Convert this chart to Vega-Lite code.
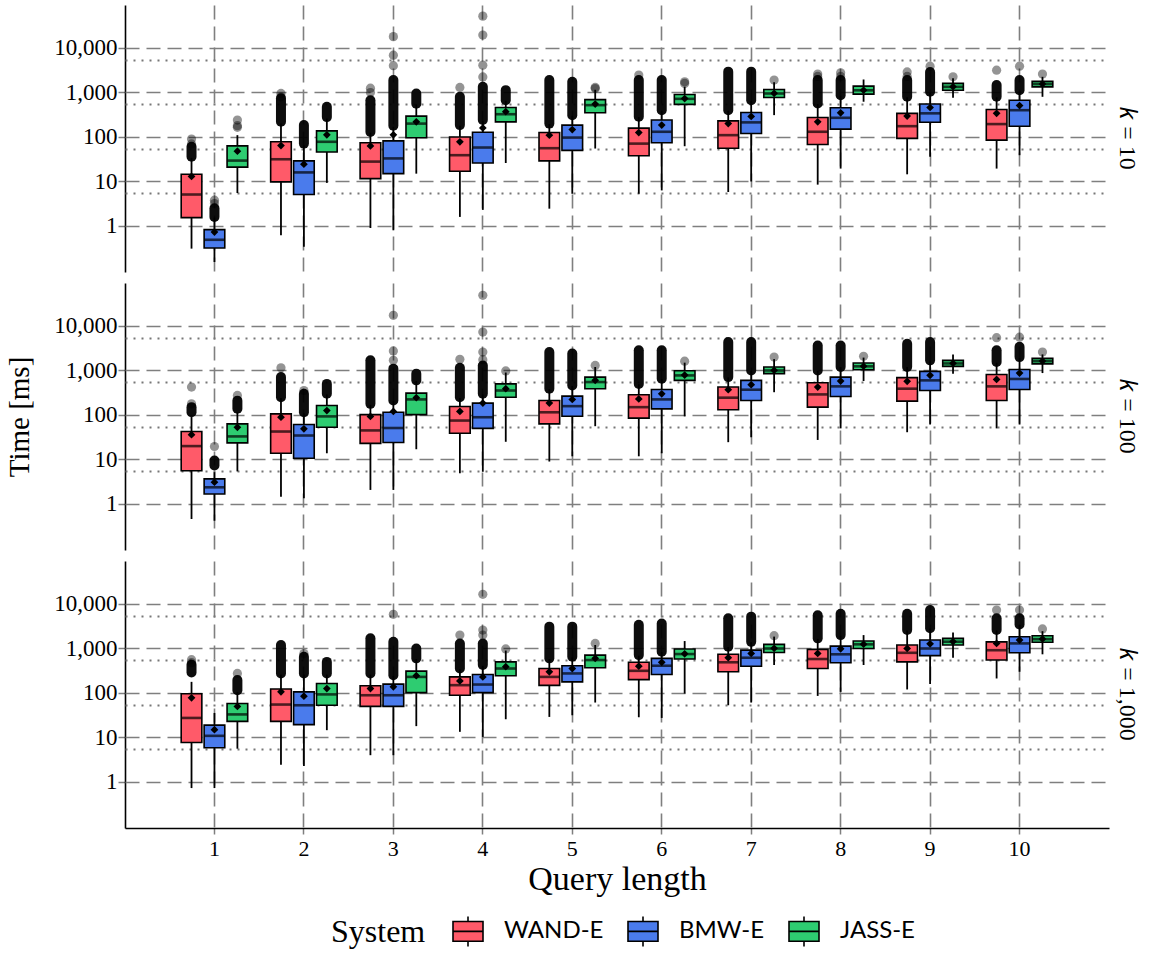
{
  "$schema": "https://vega.github.io/schema/vega-lite/v6.json",
  "padding": {"left": 5, "right": 4, "top": 5, "bottom": 5},
  "background": "white",
  "data": {"values": [
    {"kind":"box","panel":"𝑘 = 10","len":1,"system":"WAND-E","lo":0.31,"q1":1.54,"med":5.1,"q3":14.5,"hi":34,"mean":13},
    {"kind":"box","panel":"𝑘 = 10","len":1,"system":"BMW-E","lo":0.155,"q1":0.32,"med":0.49,"q3":0.83,"hi":1.55,"mean":0.73},
    {"kind":"box","panel":"𝑘 = 10","len":1,"system":"JASS-E","lo":5.5,"q1":21,"med":29.5,"q3":63,"hi":110,"mean":48},
    {"kind":"box","panel":"𝑘 = 10","len":2,"system":"WAND-E","lo":0.62,"q1":9.8,"med":31.6,"q3":78,"hi":200,"mean":64},
    {"kind":"box","panel":"𝑘 = 10","len":2,"system":"BMW-E","lo":0.34,"q1":5.1,"med":16,"q3":29,"hi":65,"mean":24.5},
    {"kind":"box","panel":"𝑘 = 10","len":2,"system":"JASS-E","lo":9.3,"q1":46,"med":78,"q3":137,"hi":260,"mean":112},
    {"kind":"box","panel":"𝑘 = 10","len":3,"system":"WAND-E","lo":0.9,"q1":11.6,"med":28,"q3":74,"hi":125,"mean":63},
    {"kind":"box","panel":"𝑘 = 10","len":3,"system":"BMW-E","lo":0.8,"q1":15,"med":33,"q3":82,"hi":170,"mean":112},
    {"kind":"box","panel":"𝑘 = 10","len":3,"system":"JASS-E","lo":15,"q1":96,"med":200,"q3":295,"hi":540,"mean":220},
    {"kind":"box","panel":"𝑘 = 10","len":4,"system":"WAND-E","lo":1.6,"q1":17,"med":39,"q3":100,"hi":180,"mean":78},
    {"kind":"box","panel":"𝑘 = 10","len":4,"system":"BMW-E","lo":2.3,"q1":26,"med":58,"q3":128,"hi":230,"mean":160},
    {"kind":"box","panel":"𝑘 = 10","len":4,"system":"JASS-E","lo":26,"q1":219,"med":325,"q3":460,"hi":650,"mean":370},
    {"kind":"box","panel":"𝑘 = 10","len":5,"system":"WAND-E","lo":2.45,"q1":29,"med":56,"q3":126,"hi":195,"mean":110},
    {"kind":"box","panel":"𝑘 = 10","len":5,"system":"BMW-E","lo":5.3,"q1":50,"med":97,"q3":185,"hi":300,"mean":147},
    {"kind":"box","panel":"𝑘 = 10","len":5,"system":"JASS-E","lo":55,"q1":350,"med":520,"q3":690,"hi":1150,"mean":550},
    {"kind":"box","panel":"𝑘 = 10","len":6,"system":"WAND-E","lo":5.3,"q1":38,"med":71,"q3":158,"hi":280,"mean":126},
    {"kind":"box","panel":"𝑘 = 10","len":6,"system":"BMW-E","lo":6.3,"q1":74,"med":131,"q3":240,"hi":390,"mean":185},
    {"kind":"box","panel":"𝑘 = 10","len":6,"system":"JASS-E","lo":62,"q1":540,"med":720,"q3":900,"hi":1350,"mean":730},
    {"kind":"box","panel":"𝑘 = 10","len":7,"system":"WAND-E","lo":5.8,"q1":56,"med":110,"q3":230,"hi":390,"mean":200},
    {"kind":"box","panel":"𝑘 = 10","len":7,"system":"BMW-E","lo":10,"q1":120,"med":213,"q3":355,"hi":650,"mean":290},
    {"kind":"box","panel":"𝑘 = 10","len":7,"system":"JASS-E","lo":310,"q1":770,"med":950,"q3":1170,"hi":1700,"mean":960},
    {"kind":"box","panel":"𝑘 = 10","len":8,"system":"WAND-E","lo":8.5,"q1":68,"med":131,"q3":275,"hi":550,"mean":220},
    {"kind":"box","panel":"𝑘 = 10","len":8,"system":"BMW-E","lo":19.5,"q1":150,"med":270,"q3":455,"hi":850,"mean":350},
    {"kind":"box","panel":"𝑘 = 10","len":8,"system":"JASS-E","lo":620,"q1":920,"med":1120,"q3":1390,"hi":1960,"mean":1130},
    {"kind":"box","panel":"𝑘 = 10","len":9,"system":"WAND-E","lo":14.5,"q1":93,"med":175,"q3":340,"hi":780,"mean":295},
    {"kind":"box","panel":"𝑘 = 10","len":9,"system":"BMW-E","lo":36,"q1":215,"med":340,"q3":550,"hi":1000,"mean":460},
    {"kind":"box","panel":"𝑘 = 10","len":9,"system":"JASS-E","lo":760,"q1":1120,"med":1340,"q3":1600,"hi":2100,"mean":1350},
    {"kind":"box","panel":"𝑘 = 10","len":10,"system":"WAND-E","lo":19.5,"q1":85,"med":195,"q3":415,"hi":780,"mean":340},
    {"kind":"box","panel":"𝑘 = 10","len":10,"system":"BMW-E","lo":39,"q1":175,"med":400,"q3":670,"hi":1100,"mean":510},
    {"kind":"box","panel":"𝑘 = 10","len":10,"system":"JASS-E","lo":800,"q1":1340,"med":1550,"q3":1780,"hi":2250,"mean":1560},

    {"kind":"box","panel":"𝑘 = 100","len":1,"system":"WAND-E","lo":0.46,"q1":5.6,"med":20,"q3":42.5,"hi":90,"mean":36},
    {"kind":"box","panel":"𝑘 = 100","len":1,"system":"BMW-E","lo":0.42,"q1":1.68,"med":2.37,"q3":3.67,"hi":5.2,"mean":3.1},
    {"kind":"box","panel":"𝑘 = 100","len":1,"system":"JASS-E","lo":5.4,"q1":23.6,"med":33,"q3":63,"hi":115,"mean":53},
    {"kind":"box","panel":"𝑘 = 100","len":2,"system":"WAND-E","lo":1.46,"q1":13.8,"med":42.5,"q3":106,"hi":240,"mean":89},
    {"kind":"box","panel":"𝑘 = 100","len":2,"system":"BMW-E","lo":1.34,"q1":10.7,"med":34.6,"q3":61,"hi":110,"mean":49},
    {"kind":"box","panel":"𝑘 = 100","len":2,"system":"JASS-E","lo":13.8,"q1":53,"med":93,"q3":163,"hi":290,"mean":126},
    {"kind":"box","panel":"𝑘 = 100","len":3,"system":"WAND-E","lo":2.07,"q1":23,"med":45,"q3":102,"hi":170,"mean":93},
    {"kind":"box","panel":"𝑘 = 100","len":3,"system":"BMW-E","lo":2.07,"q1":24,"med":51,"q3":115,"hi":205,"mean":120},
    {"kind":"box","panel":"𝑘 = 100","len":3,"system":"JASS-E","lo":17,"q1":102,"med":224,"q3":310,"hi":580,"mean":245},
    {"kind":"box","panel":"𝑘 = 100","len":4,"system":"WAND-E","lo":4.9,"q1":39,"med":75,"q3":155,"hi":240,"mean":120},
    {"kind":"box","panel":"𝑘 = 100","len":4,"system":"BMW-E","lo":5.3,"q1":50,"med":89,"q3":185,"hi":290,"mean":185},
    {"kind":"box","panel":"𝑘 = 100","len":4,"system":"JASS-E","lo":25,"q1":250,"med":355,"q3":500,"hi":900,"mean":390},
    {"kind":"box","panel":"𝑘 = 100","len":5,"system":"WAND-E","lo":9,"q1":63,"med":115,"q3":212,"hi":380,"mean":185},
    {"kind":"box","panel":"𝑘 = 100","len":5,"system":"BMW-E","lo":11.8,"q1":94,"med":158,"q3":265,"hi":450,"mean":224},
    {"kind":"box","panel":"𝑘 = 100","len":5,"system":"JASS-E","lo":56,"q1":390,"med":550,"q3":710,"hi":1200,"mean":600},
    {"kind":"box","panel":"𝑘 = 100","len":6,"system":"WAND-E","lo":11.8,"q1":85,"med":150,"q3":285,"hi":490,"mean":230},
    {"kind":"box","panel":"𝑘 = 100","len":6,"system":"BMW-E","lo":13.8,"q1":137,"med":224,"q3":375,"hi":640,"mean":300},
    {"kind":"box","panel":"𝑘 = 100","len":6,"system":"JASS-E","lo":93,"q1":600,"med":775,"q3":985,"hi":1500,"mean":790},
    {"kind":"box","panel":"𝑘 = 100","len":7,"system":"WAND-E","lo":24.5,"q1":131,"med":245,"q3":425,"hi":700,"mean":370},
    {"kind":"box","panel":"𝑘 = 100","len":7,"system":"BMW-E","lo":31.6,"q1":212,"med":370,"q3":600,"hi":990,"mean":480},
    {"kind":"box","panel":"𝑘 = 100","len":7,"system":"JASS-E","lo":325,"q1":850,"med":1000,"q3":1200,"hi":1800,"mean":1010},
    {"kind":"box","panel":"𝑘 = 100","len":8,"system":"WAND-E","lo":27.5,"q1":150,"med":290,"q3":530,"hi":990,"mean":425},
    {"kind":"box","panel":"𝑘 = 100","len":8,"system":"BMW-E","lo":50,"q1":260,"med":440,"q3":710,"hi":1190,"mean":580},
    {"kind":"box","panel":"𝑘 = 100","len":8,"system":"JASS-E","lo":580,"q1":1040,"med":1240,"q3":1470,"hi":1950,"mean":1250},
    {"kind":"box","panel":"𝑘 = 100","len":9,"system":"WAND-E","lo":41,"q1":205,"med":390,"q3":690,"hi":1190,"mean":570},
    {"kind":"box","panel":"𝑘 = 100","len":9,"system":"BMW-E","lo":61,"q1":355,"med":600,"q3":955,"hi":1680,"mean":780},
    {"kind":"box","panel":"𝑘 = 100","len":9,"system":"JASS-E","lo":850,"q1":1240,"med":1440,"q3":1690,"hi":2300,"mean":1450},
    {"kind":"box","panel":"𝑘 = 100","len":10,"system":"WAND-E","lo":50,"q1":212,"med":440,"q3":815,"hi":1500,"mean":630},
    {"kind":"box","panel":"𝑘 = 100","len":10,"system":"BMW-E","lo":61,"q1":375,"med":645,"q3":1050,"hi":1900,"mean":875},
    {"kind":"box","panel":"𝑘 = 100","len":10,"system":"JASS-E","lo":875,"q1":1410,"med":1620,"q3":1870,"hi":2300,"mean":1630},

    {"kind":"box","panel":"𝑘 = 1,000","len":1,"system":"WAND-E","lo":0.73,"q1":7.7,"med":27.5,"q3":96,"hi":178,"mean":78},
    {"kind":"box","panel":"𝑘 = 1,000","len":1,"system":"BMW-E","lo":0.73,"q1":5.9,"med":10.9,"q3":19,"hi":35.6,"mean":15},
    {"kind":"box","panel":"𝑘 = 1,000","len":1,"system":"JASS-E","lo":5.6,"q1":23,"med":33,"q3":58,"hi":106,"mean":50},
    {"kind":"box","panel":"𝑘 = 1,000","len":2,"system":"WAND-E","lo":2.45,"q1":23,"med":55,"q3":123,"hi":260,"mean":106},
    {"kind":"box","panel":"𝑘 = 1,000","len":2,"system":"BMW-E","lo":2.3,"q1":19.5,"med":53,"q3":106,"hi":260,"mean":85},
    {"kind":"box","panel":"𝑘 = 1,000","len":2,"system":"JASS-E","lo":14.6,"q1":53,"med":93,"q3":163,"hi":260,"mean":126},
    {"kind":"box","panel":"𝑘 = 1,000","len":3,"system":"WAND-E","lo":4,"q1":50,"med":89,"q3":145,"hi":260,"mean":126},
    {"kind":"box","panel":"𝑘 = 1,000","len":3,"system":"BMW-E","lo":4,"q1":50,"med":89,"q3":158,"hi":240,"mean":138},
    {"kind":"box","panel":"𝑘 = 1,000","len":3,"system":"JASS-E","lo":18,"q1":102,"med":230,"q3":310,"hi":580,"mean":245},
    {"kind":"box","panel":"𝑘 = 1,000","len":4,"system":"WAND-E","lo":13.4,"q1":89,"med":150,"q3":230,"hi":340,"mean":187},
    {"kind":"box","panel":"𝑘 = 1,000","len":4,"system":"BMW-E","lo":10.3,"q1":102,"med":155,"q3":260,"hi":410,"mean":230},
    {"kind":"box","panel":"𝑘 = 1,000","len":4,"system":"JASS-E","lo":25.7,"q1":245,"med":355,"q3":500,"hi":900,"mean":390},
    {"kind":"box","panel":"𝑘 = 1,000","len":5,"system":"WAND-E","lo":29,"q1":148,"med":230,"q3":355,"hi":580,"mean":300},
    {"kind":"box","panel":"𝑘 = 1,000","len":5,"system":"BMW-E","lo":31.6,"q1":178,"med":275,"q3":410,"hi":630,"mean":355},
    {"kind":"box","panel":"𝑘 = 1,000","len":5,"system":"JASS-E","lo":61,"q1":370,"med":550,"q3":710,"hi":1200,"mean":600},
    {"kind":"box","panel":"𝑘 = 1,000","len":6,"system":"WAND-E","lo":28.5,"q1":200,"med":315,"q3":490,"hi":690,"mean":400},
    {"kind":"box","panel":"𝑘 = 1,000","len":6,"system":"BMW-E","lo":27.5,"q1":260,"med":410,"q3":600,"hi":830,"mean":490},
    {"kind":"box","panel":"𝑘 = 1,000","len":6,"system":"JASS-E","lo":97,"q1":580,"med":750,"q3":975,"hi":1470,"mean":760},
    {"kind":"box","panel":"𝑘 = 1,000","len":7,"system":"WAND-E","lo":53,"q1":300,"med":490,"q3":740,"hi":1080,"mean":620},
    {"kind":"box","panel":"𝑘 = 1,000","len":7,"system":"BMW-E","lo":61,"q1":400,"med":620,"q3":920,"hi":1380,"mean":775},
    {"kind":"box","panel":"𝑘 = 1,000","len":7,"system":"JASS-E","lo":425,"q1":815,"med":1000,"q3":1240,"hi":1850,"mean":1010},
    {"kind":"box","panel":"𝑘 = 1,000","len":8,"system":"WAND-E","lo":86,"q1":355,"med":580,"q3":955,"hi":1650,"mean":775},
    {"kind":"box","panel":"𝑘 = 1,000","len":8,"system":"BMW-E","lo":106,"q1":480,"med":740,"q3":1130,"hi":1950,"mean":985},
    {"kind":"box","panel":"𝑘 = 1,000","len":8,"system":"JASS-E","lo":425,"q1":1000,"med":1240,"q3":1470,"hi":2000,"mean":1250},
    {"kind":"box","panel":"𝑘 = 1,000","len":9,"system":"WAND-E","lo":120,"q1":500,"med":800,"q3":1200,"hi":2550,"mean":1000},
    {"kind":"box","panel":"𝑘 = 1,000","len":9,"system":"BMW-E","lo":160,"q1":690,"med":1000,"q3":1550,"hi":2800,"mean":1270},
    {"kind":"box","panel":"𝑘 = 1,000","len":9,"system":"JASS-E","lo":620,"q1":1200,"med":1420,"q3":1690,"hi":2300,"mean":1430},
    {"kind":"box","panel":"𝑘 = 1,000","len":10,"system":"WAND-E","lo":212,"q1":550,"med":915,"q3":1410,"hi":2550,"mean":1300},
    {"kind":"box","panel":"𝑘 = 1,000","len":10,"system":"BMW-E","lo":300,"q1":800,"med":1300,"q3":1830,"hi":3400,"mean":1550},
    {"kind":"box","panel":"𝑘 = 1,000","len":10,"system":"JASS-E","lo":740,"q1":1380,"med":1620,"q3":1940,"hi":2450,"mean":1640},

    {"kind":"band","panel":"𝑘 = 10","len":1,"system":"WAND-E","from":36,"to":60},
    {"kind":"band","panel":"𝑘 = 10","len":1,"system":"BMW-E","from":1.6,"to":2.5},
    {"kind":"band","panel":"𝑘 = 10","len":2,"system":"WAND-E","from":220,"to":740},
    {"kind":"band","panel":"𝑘 = 10","len":2,"system":"BMW-E","from":71,"to":185},
    {"kind":"band","panel":"𝑘 = 10","len":2,"system":"JASS-E","from":280,"to":480},
    {"kind":"band","panel":"𝑘 = 10","len":3,"system":"WAND-E","from":130,"to":670},
    {"kind":"band","panel":"𝑘 = 10","len":3,"system":"BMW-E","from":180,"to":1900},
    {"kind":"band","panel":"𝑘 = 10","len":3,"system":"JASS-E","from":560,"to":950},
    {"kind":"band","panel":"𝑘 = 10","len":4,"system":"WAND-E","from":185,"to":800},
    {"kind":"band","panel":"𝑘 = 10","len":4,"system":"BMW-E","from":240,"to":1340},
    {"kind":"band","panel":"𝑘 = 10","len":4,"system":"JASS-E","from":670,"to":1130},
    {"kind":"band","panel":"𝑘 = 10","len":5,"system":"WAND-E","from":200,"to":1900},
    {"kind":"band","panel":"𝑘 = 10","len":5,"system":"BMW-E","from":310,"to":1740},
    {"kind":"band","panel":"𝑘 = 10","len":6,"system":"WAND-E","from":285,"to":1900},
    {"kind":"band","panel":"𝑘 = 10","len":6,"system":"BMW-E","from":400,"to":1900},
    {"kind":"band","panel":"𝑘 = 10","len":7,"system":"WAND-E","from":400,"to":2940},
    {"kind":"band","panel":"𝑘 = 10","len":7,"system":"BMW-E","from":670,"to":2940},
    {"kind":"band","panel":"𝑘 = 10","len":8,"system":"WAND-E","from":565,"to":1900},
    {"kind":"band","panel":"𝑘 = 10","len":8,"system":"BMW-E","from":870,"to":1900},
    {"kind":"band","panel":"𝑘 = 10","len":9,"system":"WAND-E","from":800,"to":1900},
    {"kind":"band","panel":"𝑘 = 10","len":9,"system":"BMW-E","from":1040,"to":2900},
    {"kind":"band","panel":"𝑘 = 10","len":10,"system":"WAND-E","from":800,"to":1470},
    {"kind":"band","panel":"𝑘 = 10","len":10,"system":"BMW-E","from":1130,"to":1900},

    {"kind":"band","panel":"𝑘 = 100","len":1,"system":"WAND-E","from":115,"to":150},
    {"kind":"band","panel":"𝑘 = 100","len":1,"system":"BMW-E","from":7.3,"to":9.5},
    {"kind":"band","panel":"𝑘 = 100","len":1,"system":"JASS-E","from":138,"to":210},
    {"kind":"band","panel":"𝑘 = 100","len":2,"system":"WAND-E","from":250,"to":710},
    {"kind":"band","panel":"𝑘 = 100","len":2,"system":"BMW-E","from":115,"to":300},
    {"kind":"band","panel":"𝑘 = 100","len":2,"system":"JASS-E","from":300,"to":500},
    {"kind":"band","panel":"𝑘 = 100","len":3,"system":"WAND-E","from":178,"to":1690},
    {"kind":"band","panel":"𝑘 = 100","len":3,"system":"BMW-E","from":213,"to":1100},
    {"kind":"band","panel":"𝑘 = 100","len":3,"system":"JASS-E","from":600,"to":850},
    {"kind":"band","panel":"𝑘 = 100","len":4,"system":"WAND-E","from":250,"to":1150},
    {"kind":"band","panel":"𝑘 = 100","len":4,"system":"BMW-E","from":300,"to":1300},
    {"kind":"band","panel":"𝑘 = 100","len":5,"system":"WAND-E","from":390,"to":2600},
    {"kind":"band","panel":"𝑘 = 100","len":5,"system":"BMW-E","from":460,"to":2400},
    {"kind":"band","panel":"𝑘 = 100","len":6,"system":"WAND-E","from":500,"to":2840},
    {"kind":"band","panel":"𝑘 = 100","len":6,"system":"BMW-E","from":650,"to":2840},
    {"kind":"band","panel":"𝑘 = 100","len":7,"system":"WAND-E","from":710,"to":4350},
    {"kind":"band","panel":"𝑘 = 100","len":7,"system":"BMW-E","from":1000,"to":4350},
    {"kind":"band","panel":"𝑘 = 100","len":8,"system":"WAND-E","from":1000,"to":3650},
    {"kind":"band","panel":"𝑘 = 100","len":8,"system":"BMW-E","from":1200,"to":3650},
    {"kind":"band","panel":"𝑘 = 100","len":9,"system":"WAND-E","from":1200,"to":4000},
    {"kind":"band","panel":"𝑘 = 100","len":9,"system":"BMW-E","from":1690,"to":4350},
    {"kind":"band","panel":"𝑘 = 100","len":10,"system":"WAND-E","from":1550,"to":2840},
    {"kind":"band","panel":"𝑘 = 100","len":10,"system":"BMW-E","from":2000,"to":3400},

    {"kind":"band","panel":"𝑘 = 1,000","len":1,"system":"WAND-E","from":290,"to":430},
    {"kind":"band","panel":"𝑘 = 1,000","len":1,"system":"JASS-E","from":115,"to":195},
    {"kind":"band","panel":"𝑘 = 1,000","len":2,"system":"WAND-E","from":275,"to":1200},
    {"kind":"band","panel":"𝑘 = 1,000","len":2,"system":"BMW-E","from":275,"to":650},
    {"kind":"band","panel":"𝑘 = 1,000","len":2,"system":"JASS-E","from":275,"to":500},
    {"kind":"band","panel":"𝑘 = 1,000","len":3,"system":"WAND-E","from":275,"to":1690},
    {"kind":"band","panel":"𝑘 = 1,000","len":3,"system":"BMW-E","from":250,"to":1410},
    {"kind":"band","panel":"𝑘 = 1,000","len":3,"system":"JASS-E","from":600,"to":1000},
    {"kind":"band","panel":"𝑘 = 1,000","len":4,"system":"WAND-E","from":355,"to":1300},
    {"kind":"band","panel":"𝑘 = 1,000","len":4,"system":"BMW-E","from":425,"to":1300},
    {"kind":"band","panel":"𝑘 = 1,000","len":5,"system":"WAND-E","from":600,"to":3100},
    {"kind":"band","panel":"𝑘 = 1,000","len":5,"system":"BMW-E","from":650,"to":3100},
    {"kind":"band","panel":"𝑘 = 1,000","len":6,"system":"WAND-E","from":710,"to":3400},
    {"kind":"band","panel":"𝑘 = 1,000","len":6,"system":"BMW-E","from":850,"to":3650},
    {"kind":"band","panel":"𝑘 = 1,000","len":7,"system":"WAND-E","from":1100,"to":4800},
    {"kind":"band","panel":"𝑘 = 1,000","len":7,"system":"BMW-E","from":1410,"to":5200},
    {"kind":"band","panel":"𝑘 = 1,000","len":8,"system":"WAND-E","from":1690,"to":5600},
    {"kind":"band","panel":"𝑘 = 1,000","len":8,"system":"BMW-E","from":2000,"to":6000},
    {"kind":"band","panel":"𝑘 = 1,000","len":9,"system":"WAND-E","from":2600,"to":6000},
    {"kind":"band","panel":"𝑘 = 1,000","len":9,"system":"BMW-E","from":2840,"to":7300},
    {"kind":"band","panel":"𝑘 = 1,000","len":10,"system":"WAND-E","from":2600,"to":4800},
    {"kind":"band","panel":"𝑘 = 1,000","len":10,"system":"BMW-E","from":3470,"to":4800},

    {"kind":"pt","panel":"𝑘 = 10","len":1,"system":"WAND-E","t":70},
    {"kind":"pt","panel":"𝑘 = 10","len":1,"system":"WAND-E","t":90},
    {"kind":"pt","panel":"𝑘 = 10","len":1,"system":"BMW-E","t":3.2},
    {"kind":"pt","panel":"𝑘 = 10","len":1,"system":"BMW-E","t":3.8},
    {"kind":"pt","panel":"𝑘 = 10","len":1,"system":"JASS-E","t":165},
    {"kind":"pt","panel":"𝑘 = 10","len":1,"system":"JASS-E","t":180},
    {"kind":"pt","panel":"𝑘 = 10","len":1,"system":"JASS-E","t":240},
    {"kind":"pt","panel":"𝑘 = 10","len":2,"system":"WAND-E","t":800},
    {"kind":"pt","panel":"𝑘 = 10","len":2,"system":"WAND-E","t":950},
    {"kind":"pt","panel":"𝑘 = 10","len":3,"system":"WAND-E","t":1000},
    {"kind":"pt","panel":"𝑘 = 10","len":3,"system":"WAND-E","t":1250},
    {"kind":"pt","panel":"𝑘 = 10","len":3,"system":"BMW-E","t":4000},
    {"kind":"pt","panel":"𝑘 = 10","len":3,"system":"BMW-E","t":6900},
    {"kind":"pt","panel":"𝑘 = 10","len":3,"system":"BMW-E","t":18000},
    {"kind":"pt","panel":"𝑘 = 10","len":4,"system":"WAND-E","t":1300},
    {"kind":"pt","panel":"𝑘 = 10","len":4,"system":"BMW-E","t":2240},
    {"kind":"pt","panel":"𝑘 = 10","len":4,"system":"BMW-E","t":4100},
    {"kind":"pt","panel":"𝑘 = 10","len":4,"system":"BMW-E","t":19500},
    {"kind":"pt","panel":"𝑘 = 10","len":4,"system":"BMW-E","t":52000},
    {"kind":"pt","panel":"𝑘 = 10","len":5,"system":"JASS-E","t":1230},
    {"kind":"pt","panel":"𝑘 = 10","len":5,"system":"JASS-E","t":1300},
    {"kind":"pt","panel":"𝑘 = 10","len":6,"system":"WAND-E","t":2460},
    {"kind":"pt","panel":"𝑘 = 10","len":6,"system":"JASS-E","t":1600},
    {"kind":"pt","panel":"𝑘 = 10","len":6,"system":"JASS-E","t":1740},
    {"kind":"pt","panel":"𝑘 = 10","len":7,"system":"JASS-E","t":1900},
    {"kind":"pt","panel":"𝑘 = 10","len":8,"system":"WAND-E","t":2300},
    {"kind":"pt","panel":"𝑘 = 10","len":8,"system":"WAND-E","t":2600},
    {"kind":"pt","panel":"𝑘 = 10","len":8,"system":"BMW-E","t":2300},
    {"kind":"pt","panel":"𝑘 = 10","len":8,"system":"BMW-E","t":2760},
    {"kind":"pt","panel":"𝑘 = 10","len":9,"system":"WAND-E","t":2300},
    {"kind":"pt","panel":"𝑘 = 10","len":9,"system":"WAND-E","t":2900},
    {"kind":"pt","panel":"𝑘 = 10","len":9,"system":"BMW-E","t":3900},
    {"kind":"pt","panel":"𝑘 = 10","len":9,"system":"JASS-E","t":2250},
    {"kind":"pt","panel":"𝑘 = 10","len":10,"system":"WAND-E","t":3170},
    {"kind":"pt","panel":"𝑘 = 10","len":10,"system":"BMW-E","t":3900},
    {"kind":"pt","panel":"𝑘 = 10","len":10,"system":"JASS-E","t":2600},

    {"kind":"pt","panel":"𝑘 = 100","len":1,"system":"WAND-E","t":178},
    {"kind":"pt","panel":"𝑘 = 100","len":1,"system":"WAND-E","t":425},
    {"kind":"pt","panel":"𝑘 = 100","len":1,"system":"BMW-E","t":19.6},
    {"kind":"pt","panel":"𝑘 = 100","len":1,"system":"JASS-E","t":275},
    {"kind":"pt","panel":"𝑘 = 100","len":2,"system":"WAND-E","t":1150},
    {"kind":"pt","panel":"𝑘 = 100","len":2,"system":"BMW-E","t":355},
    {"kind":"pt","panel":"𝑘 = 100","len":3,"system":"BMW-E","t":1690},
    {"kind":"pt","panel":"𝑘 = 100","len":3,"system":"BMW-E","t":2750},
    {"kind":"pt","panel":"𝑘 = 100","len":3,"system":"BMW-E","t":17400},
    {"kind":"pt","panel":"𝑘 = 100","len":4,"system":"WAND-E","t":1780},
    {"kind":"pt","panel":"𝑘 = 100","len":4,"system":"BMW-E","t":1750},
    {"kind":"pt","panel":"𝑘 = 100","len":4,"system":"BMW-E","t":2600},
    {"kind":"pt","panel":"𝑘 = 100","len":4,"system":"BMW-E","t":7300},
    {"kind":"pt","panel":"𝑘 = 100","len":4,"system":"BMW-E","t":49000},
    {"kind":"pt","panel":"𝑘 = 100","len":4,"system":"JASS-E","t":975},
    {"kind":"pt","panel":"𝑘 = 100","len":5,"system":"JASS-E","t":1300},
    {"kind":"pt","panel":"𝑘 = 100","len":6,"system":"JASS-E","t":1620},
    {"kind":"pt","panel":"𝑘 = 100","len":7,"system":"JASS-E","t":2000},
    {"kind":"pt","panel":"𝑘 = 100","len":8,"system":"JASS-E","t":2090},
    {"kind":"pt","panel":"𝑘 = 100","len":10,"system":"WAND-E","t":5450},
    {"kind":"pt","panel":"𝑘 = 100","len":10,"system":"BMW-E","t":5600},
    {"kind":"pt","panel":"𝑘 = 100","len":10,"system":"JASS-E","t":2600},

    {"kind":"pt","panel":"𝑘 = 1,000","len":1,"system":"WAND-E","t":480},
    {"kind":"pt","panel":"𝑘 = 1,000","len":1,"system":"WAND-E","t":560},
    {"kind":"pt","panel":"𝑘 = 1,000","len":1,"system":"JASS-E","t":275},
    {"kind":"pt","panel":"𝑘 = 1,000","len":2,"system":"BMW-E","t":770},
    {"kind":"pt","panel":"𝑘 = 1,000","len":3,"system":"BMW-E","t":5850},
    {"kind":"pt","panel":"𝑘 = 1,000","len":4,"system":"WAND-E","t":2000},
    {"kind":"pt","panel":"𝑘 = 1,000","len":4,"system":"BMW-E","t":2000},
    {"kind":"pt","panel":"𝑘 = 1,000","len":4,"system":"BMW-E","t":2600},
    {"kind":"pt","panel":"𝑘 = 1,000","len":4,"system":"BMW-E","t":16500},
    {"kind":"pt","panel":"𝑘 = 1,000","len":4,"system":"JASS-E","t":975},
    {"kind":"pt","panel":"𝑘 = 1,000","len":5,"system":"JASS-E","t":1300},
    {"kind":"pt","panel":"𝑘 = 1,000","len":7,"system":"JASS-E","t":1940},
    {"kind":"pt","panel":"𝑘 = 1,000","len":10,"system":"WAND-E","t":7300},
    {"kind":"pt","panel":"𝑘 = 1,000","len":10,"system":"BMW-E","t":7300},
    {"kind":"pt","panel":"𝑘 = 1,000","len":10,"system":"JASS-E","t":2750}
  ]},
  "facet": {
    "row": {
      "field": "panel",
      "type": "nominal",
      "sort": ["𝑘 = 10", "𝑘 = 100", "𝑘 = 1,000"],
      "title": "Time [ms]",
      "header": {
        "titleOrient": "left",
        "titleFont": "Liberation Serif",
        "titleFontSize": 29,
        "titleFontWeight": "normal",
        "titleColor": "black",
        "titlePadding": 8,
        "labelOrient": "right",
        "labelAngle": 90,
        "labelFont": "Liberation Serif",
        "labelFontSize": 24,
        "labelColor": "black",
        "labelPadding": 6
      }
    }
  },
  "spacing": {"row": 11},
  "spec": {
    "width": 984,
    "height": 267,
    "encoding": {
      "x": {
        "field": "len",
        "type": "ordinal",
        "title": "Query length",
        "scale": {"paddingInner": 0, "paddingOuter": 0.5},
        "axis": {
          "labelAngle": 0,
          "bandPosition": 0.5,
          "grid": true,
          "gridColor": "#7f7f7f",
          "gridDash": [14, 7],
          "gridWidth": 1.6,
          "tickColor": "#7f7f7f",
          "tickSize": 6,
          "tickWidth": 1.5,
          "domainColor": "black",
          "domainWidth": 1.6,
          "labelFont": "Liberation Serif",
          "labelFontSize": 22,
          "labelColor": "black",
          "labelPadding": 4,
          "titleFont": "Liberation Serif",
          "titleFontSize": 34,
          "titleFontWeight": "normal",
          "titleColor": "black",
          "titlePadding": 3
        }
      },
      "xOffset": {
        "field": "system",
        "type": "nominal",
        "scale": {"domain": ["WAND-E", "BMW-E", "JASS-E"], "paddingInner": 0.1, "paddingOuter": 0.5}
      }
    },
    "layer": [
      {
        "transform": [{"filter": "datum.kind === 'box'"}],
        "mark": {"type": "rule", "color": "black", "strokeWidth": 1.8},
        "encoding": {
          "y": {
            "field": "lo",
            "type": "quantitative",
            "scale": {"type": "log", "domain": [0.0925, 92500], "nice": false},
            "axis": {
              "values": [5.5, 55, 550, 5500],
              "grid": true,
              "gridColor": "#777777",
              "gridDash": [2, 6],
              "gridWidth": 1.8,
              "labels": false,
              "ticks": false,
              "domain": false,
              "title": null,
              "orient": "left"
            }
          },
          "y2": {"field": "q1"}
        }
      },
      {
        "transform": [{"filter": "datum.kind === 'box'"}],
        "mark": {"type": "rule", "color": "black", "strokeWidth": 1.8},
        "encoding": {
          "y": {
            "field": "q3",
            "type": "quantitative",
            "axis": {
              "values": [1, 10, 100, 1000, 10000],
              "format": ",",
              "title": null,
              "grid": true,
              "gridColor": "#7f7f7f",
              "gridDash": [14, 7],
              "gridWidth": 1.6,
              "tickColor": "#7f7f7f",
              "tickSize": 7,
              "tickWidth": 1.5,
              "domainColor": "black",
              "domainWidth": 1.6,
              "labelFont": "Liberation Serif",
              "labelFontSize": 23,
              "labelColor": "black",
              "labelPadding": 1,
              "orient": "left"
            }
          },
          "y2": {"field": "hi"}
        }
      },
      {
        "transform": [{"filter": "datum.kind === 'band'"}],
        "mark": {"type": "rule", "color": "black", "strokeWidth": 10, "strokeCap": "round", "opacity": 0.95},
        "encoding": {
          "y": {"field": "from", "type": "quantitative", "axis": null},
          "y2": {"field": "to"}
        }
      },
      {
        "transform": [{"filter": "datum.kind === 'pt'"}],
        "mark": {"type": "point", "shape": "circle", "filled": true, "color": "black", "opacity": 0.42, "size": 85},
        "encoding": {
          "y": {"field": "t", "type": "quantitative", "axis": null}
        }
      },
      {
        "transform": [{"filter": "datum.kind === 'box'"}],
        "mark": {"type": "bar", "stroke": "black", "strokeWidth": 1.6},
        "encoding": {
          "y": {"field": "q1", "type": "quantitative", "axis": null},
          "y2": {"field": "q3"},
          "fill": {
            "field": "system",
            "type": "nominal",
            "title": "System",
            "scale": {"domain": ["WAND-E", "BMW-E", "JASS-E"], "range": ["#FF5A69", "#4A7BEC", "#2ECC71"]},
            "legend": {
              "orient": "none",
              "legendX": 206,
              "legendY": 910,
              "direction": "horizontal",
              "titleOrient": "left",
              "titleFont": "Liberation Serif",
              "titleFontSize": 32,
              "titleFontWeight": "normal",
              "titleColor": "black",
              "titlePadding": 26,
              "labelFont": "Lato",
              "labelFontSize": 24,
              "labelColor": "black",
              "labelOffset": 20,
              "symbolType": "M-1,-0.66H1V0.66H-1Z M-1,0H1 M0,-0.66V-1 M0,0.66V1",
              "symbolSize": 900,
              "symbolStrokeColor": "black",
              "symbolStrokeWidth": 1.6,
              "symbolOpacity": 1,
              "columnPadding": 20
            }
          }
        }
      },
      {
        "transform": [{"filter": "datum.kind === 'box'"}],
        "mark": {"type": "tick", "color": "black", "thickness": 2.6, "size": 20, "orient": "horizontal"},
        "encoding": {
          "y": {"field": "med", "type": "quantitative", "axis": null}
        }
      },
      {
        "transform": [{"filter": "datum.kind === 'box'"}],
        "mark": {"type": "point", "shape": "diamond", "filled": true, "color": "black", "opacity": 1, "size": 60},
        "encoding": {
          "y": {"field": "mean", "type": "quantitative", "axis": null}
        }
      }
    ],
    "resolve": {"axis": {"y": "independent"}}
  },
  "config": {
    "view": {"stroke": null},
    "font": "Liberation Serif",
    "axis": {"labelFontWeight": "normal"}
  }
}
